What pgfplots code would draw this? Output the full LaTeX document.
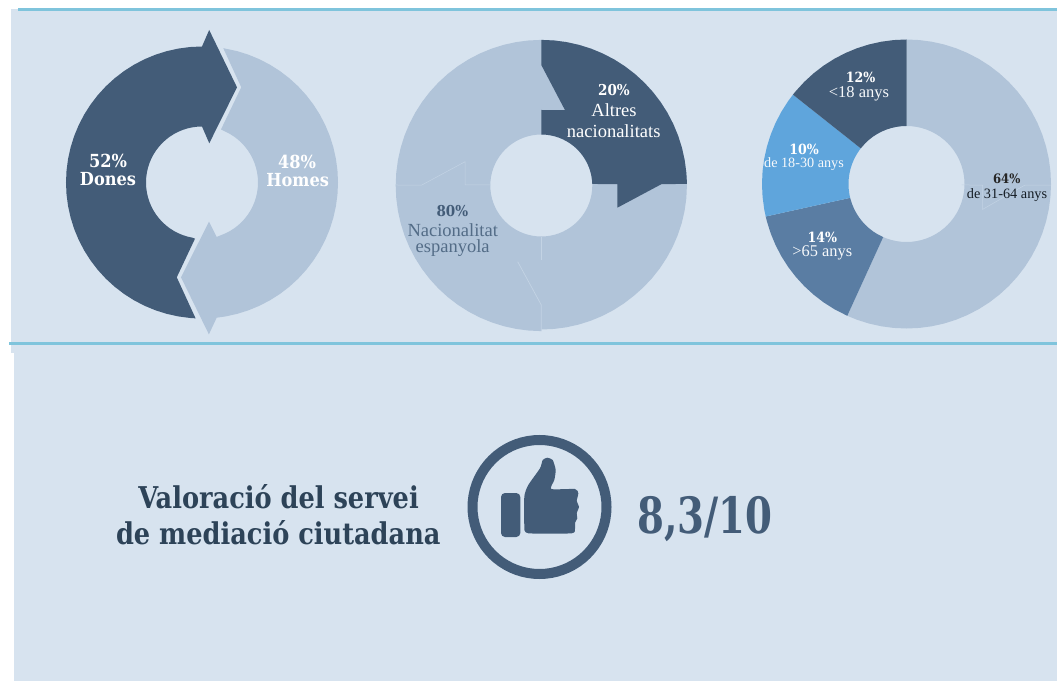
\documentclass[border=0pt]{standalone}
\usepackage{fontspec}
\setmainfont{Liberation Serif}
\newfontfamily\slab{DejaVu Serif Condensed}
\usepackage{pgfplots}
\usepgfplotslibrary{polar}
\pgfplotsset{compat=1.18}
\definecolor{bgpanel}{HTML}{D7E3EF}
\definecolor{rule}{HTML}{7FC4DC}
\definecolor{navy}{HTML}{435C78}
\definecolor{pale}{HTML}{B1C4D9}
\definecolor{mid}{HTML}{5A7DA3}
\definecolor{sky}{HTML}{5FA5DC}
\definecolor{seam}{HTML}{C3D3E4}
\definecolor{head}{HTML}{2D4358}
\pgfplotsset{
  pix/.style={at={(0pt,0pt)},anchor=south west,scale only axis,width=1057pt,height=681pt,
    xmin=0,xmax=1057,ymin=0,ymax=681,y dir=reverse,hide axis,clip=false},
  donut/.style={anchor=center,scale only axis,width=340pt,height=340pt,
    xmin=0,xmax=360,ymin=0,ymax=170,hide axis,clip=false},
}
\newcommand{\lab}[4]{\node[text=#3,align=center,inner sep=0pt] at (axis cs:#1,#2) {#4};}
\newcommand{\bl}[1]{\slab\bfseries\fontsize{#1}{#1}\selectfont}
\newcommand{\lt}[1]{\fontsize{#1}{#1}\selectfont}
\begin{document}
\begin{tikzpicture}
\path[use as bounding box] (0pt,0pt) rectangle (1057pt,681pt);
% panels and rules
\begin{axis}[pix]
\addplot[fill=bgpanel,draw=none] coordinates {(11,9) (1057,9) (1057,353) (11,353)};
\addplot[fill=bgpanel,draw=none] coordinates {(14,352) (1057,352) (1057,681) (14,681)};
\addplot[rule,line width=3pt] coordinates {(18,9.5) (1057,9.5)};
\addplot[rule,line width=3pt] coordinates {(9,343.3) (1057,343.3)};
\end{axis}

% donut 1: gender
\begin{polaraxis}[donut,at={(202pt,498.5pt)}]
\addplot[fill=navy,draw=none] coordinates {
(90,136)(95,136)(100,136)(105,136)(110,136)(115,136)(120,136)(125,136)(130,136)(135,136)(140,136)(145,136)
(150,136)(155,136)(160,136)(165,136)(170,136)(175,136)(180,136)(185,136)(190,136)(195,136)(200,136)(205,136)
(210,136)(215,136)(220,136)(225,136)(230,136)(235,136)(240,136)(245,136)(250,136)(255,136)(260,136)(265,136)(267.3,136)
(255.1,98.1)(262.9,56.6)
(260,56)(255,56)(250,56)(245,56)(240,56)(235,56)(230,56)(225,56)(220,56)(215,56)(210,56)(205,56)(200,56)(195,56)
(190,56)(185,56)(180,56)(175,56)(170,56)(165,56)(160,56)(155,56)(150,56)(145,56)(140,56)(135,56)(130,56)(125,56)
(120,56)(115,56)(110,56)(105,56)(100,56)(95,56)(90,56)
(79.5,39.9)(69.8,101.4)(87.3,152.7)};
\addplot[fill=pale,draw=none] coordinates {
(81,136)(75,136)(70,136)(65,136)(60,136)(55,136)(50,136)(45,136)(40,136)(35,136)(30,136)(25,136)(20,136)(15,136)(10,136)(5,136)
(0,136)(355,136)(350,136)(345,136)(340,136)(335,136)(330,136)(325,136)(320,136)(315,136)(310,136)(305,136)(300,136)(295,136)(290,136)(285,136)(280,136)(276.2,136)
(272.6,152)(257.5,97.1)(280.1,39.8)(285.1,56.4)
(290,56)(295,56)(300,56)(305,56)(310,56)(315,56)(320,56)(325,56)(330,56)(335,56)(340,56)(345,56)(350,56)(355,56)
(0,56)(5,56)(10,56)(15,56)(20,56)(25,56)(30,56)(35,56)(40,56)(45,56)(50,56)(55,56)(60,56)(65,56)(70.3,56.4)
(67.6,103)};
\end{polaraxis}

% donut 2: nationality
\begin{polaraxis}[donut,at={(541.3pt,495.5pt)}]
\addplot[fill=pale,draw=none] coordinates {
(45,145.6)(40,145.6)(35,145.6)(30,145.6)(25,145.6)(20,145.6)(15,145.6)(10,145.6)(5,145.6)(0,145.6)
(355,145.6)(350,145.5)(345,145.4)(340,145.2)(335,145)(330,144.8)(325,144.6)(320,144.4)(315,144.2)(310,144)(305,144)(300,144)(295,144)(290,144)(285,144)(280,144)(275,144)(270,144)
(270,145.6)(265,145.6)(260,145.6)(255,145.6)(250,145.6)(245,145.6)(240,145.6)(235,145.6)(230,145.6)(225,145.6)(220,145.6)(215,145.6)(210,145.6)(205,145.6)(200,145.6)(195,145.6)(190,145.6)(185,145.6)
(180,145.6)(175,145.6)(170,145.6)(165,145.6)(160,145.6)(155,145.6)(150,145.6)(145,145.6)(140,145.6)(135,145.6)(130,145.6)(125,145.6)(120,145.6)(115,145.6)(110,145.6)(105,145.6)(100,145.6)(95,145.6)(90,145.6)
(85,145.6)(80,145.6)(75,145.6)(70,145.6)(65,145.6)(60,145.6)(55,145.6)(50,145.6)(45,145.6)
(45,51)(50,51)(55,51)(60,51)(65,51)(70,51)(75,51)(80,51)(85,51)(90,51)(95,51)(100,51)(105,51)(110,51)(115,51)(120,51)(125,51)(130,51)(135,51)
(140,51)(145,51)(150,51)(155,51)(160,51)(165,51)(170,51)(175,51)(180,51)(185,51)(190,51)(195,51)(200,51)(205,51)(210,51)(215,51)(220,51)(225,51)
(230,51)(235,51)(240,51)(245,51)(250,51)(255,51)(260,51)(265,51)(270,51)(275,51)(280,51)(285,51)(290,51)(295,51)(300,51)(305,51)(310,51)(315,51)
(320,51)(325,51)(330,51)(335,51)(340,51)(345,51)(350,51)(355,51)(0,51)(5,51)(10,51)(15,51)(20,51)(25,51)(30,51)(35,51)(40,51)(45,51)};
\addplot[fill=navy,draw=none] coordinates {
(90,145.6)(85,145.6)(80,145.6)(75,145.6)(70,145.6)(65,145.6)(60,145.6)(55,145.6)(50,145.6)(45,145.6)(40,145.6)(35,145.6)(30,145.6)(25,145.6)(20,145.6)(15,145.6)(10,145.6)(5,145.6)(0.6,145.7)
(0.7,120.4)(343.7,79.2)(1.1,76)(1.7,51)
(5,51)(10,51)(15,51)(20,51)(25,51)(30,51)(35,51)(40,51)(45,51)(50,51)(55,51)(60,51)(65,51)(70,51)(75,51)(80,51)(85,51)(90,51)
(90,75.5)(72.6,79.1)(90,120.5)};
\addplot[seam,line width=0.5pt] coordinates {(179.8,145.6)(179.8,119.6)(162.7,79.9)(179.6,76.3)(179.4,51.3)};
\addplot[seam,line width=0.5pt] coordinates {(270,51.2)(270,74.5)};
\addplot[seam,line width=0.7pt] coordinates {(252.8,79.8)(270,119.5)(270,145.5)};
\end{polaraxis}

% donut 3: age
\begin{polaraxis}[donut,at={(906.5pt,497pt)}]
\addplot[fill=pale,draw=none] coordinates {
(90,144.5)(85,144.5)(80,144.5)(75,144.5)(70,144.5)(65,144.5)(60,144.5)(55,144.5)(50,144.5)(45,144.5)(40,144.5)(35,144.5)(30,144.5)(25,144.5)(20,144.5)(15,144.5)(10,144.5)(5,144.5)
(0,144.5)(355,144.5)(350,144.5)(345,144.5)(340,144.5)(335,144.5)(330,144.5)(325,144.5)(320,144.5)(315,144.5)(310,144.5)(305,144.5)(300,144.5)(295,144.5)(290,144.5)(285,144.5)(280,144.5)(275,144.5)
(270,144.5)(265,144.5)(260,144.5)(255,144.5)(250,144.5)(245.8,144.5)
(246.3,58)(250,58)(255,58)(260,58)(265,58)(270,58)(275,58)(280,58)(285,58)(290,58)(295,58)(300,58)(305,58)(310,58)(315,58)(320,58)(325,58)(330,58)(335,58)(340,58)(345,58)(350,58)(355,58)
(0,58)(5,58)(10,58)(15,58)(20,58)(25,58)(30,58)(35,58)(40,58)(45,58)(50,58)(55,58)(60,58)(65,58)(70,58)(75,58)(80,58)(85,58)(90,58)};
\addplot[fill=mid,draw=none] coordinates {
(245.8,144.5)(240,144.5)(235,144.5)(230,144.5)(225,144.5)(220,144.5)(215,144.5)(210,144.5)(205,144.5)(200,144.5)(195,144.5)(193,144.5)
(193.8,58)(195,58)(200,58)(205,58)(210,58)(215,58)(220,58)(225,58)(230,58)(235,58)(240,58)(246.3,58)};
\addplot[fill=sky,draw=none] coordinates {
(193,144.5)(190,144.5)(185,144.5)(180,144.5)(175,144.5)(170,144.5)(165,144.5)(160,144.5)(155,144.5)(150,144.5)(145,144.5)(141.8,144.5)
(142.1,58)(145,58)(150,58)(155,58)(160,58)(165,58)(170,58)(175,58)(180,58)(185,58)(190,58)(193.8,58)};
\addplot[fill=navy,draw=none] coordinates {
(141.8,144.5)(140,144.5)(135,144.5)(130,144.5)(125,144.5)(120,144.5)(115,144.5)(110,144.5)(105,144.5)(100,144.5)(95,144.5)(90,144.5)
(90,58)(95,58)(100,58)(105,58)(110,58)(115,58)(120,58)(125,58)(130,58)(135,58)(142.1,58)};
\addplot[seam,line width=0.5pt] coordinates {(359,55.2)(359.2,76.2)(341.6,80.3)(359.5,118.5)(359.6,144.5)};
\end{polaraxis}

% ring of the thumb
\begin{polaraxis}[donut,at={(539.5pt,174pt)}]
\addplot[navy,line width=10pt] coordinates {
(0,67)(5,67)(10,67)(15,67)(20,67)(25,67)(30,67)(35,67)(40,67)(45,67)(50,67)(55,67)(60,67)(65,67)(70,67)(75,67)(80,67)(85,67)
(90,67)(95,67)(100,67)(105,67)(110,67)(115,67)(120,67)(125,67)(130,67)(135,67)(140,67)(145,67)(150,67)(155,67)(160,67)(165,67)(170,67)(175,67)
(180,67)(185,67)(190,67)(195,67)(200,67)(205,67)(210,67)(215,67)(220,67)(225,67)(230,67)(235,67)(240,67)(245,67)(250,67)(255,67)(260,67)(265,67)
(270,67)(275,67)(280,67)(285,67)(290,67)(295,67)(300,67)(305,67)(310,67)(315,67)(320,67)(325,67)(330,67)(335,67)(340,67)(345,67)(350,67)(355,67)} -- cycle;
\end{polaraxis}

% thumb and all text
\begin{axis}[pix]
\addplot[fill=navy,draw=none,rounded corners=4pt] coordinates {(501,493)(520.3,493)(520.3,537)(501,537)} -- cycle;
\addplot[fill=navy,draw=none,smooth,tension=0.35] coordinates {
(524.3,528.3)(524.3,496.7)(528.3,485)(540,468.3)(542.7,460)(547.3,457.7)(552.7,460)(555.7,470)(554.3,480)(551.3,489)
(575,489)(578.3,493.3)(576.7,501)(579,506.7)(576.7,513.3)(577.3,518.3)(575,522.7)(575,528.3)(571.7,533.3)(528.3,533.3)(524.3,528.3)};

\lab{108}{161}{white}{\bl{18}52\%}
\lab{108}{179}{white}{\bl{18}Dones}
\lab{297}{161.5}{white}{\bl{18}48\%}
\lab{297.6}{180.5}{white}{\bl{18}Homes}

\lab{614}{90}{white}{\bl{15}20\%}
\lab{614}{110}{white}{\lt{18.5}Altres}
\lab{613.7}{131}{white}{\lt{18.5}nacionalitats}
\lab{452.3}{211}{navy}{\bl{15}80\%}
\lab{452.7}{229.7}{navy!85!pale}{\lt{18.5}Nacionalitat}
\lab{452.7}{247.7}{navy!85!pale}{\lt{18.5}espanyola}

\lab{860.7}{77.7}{white}{\bl{14}12\%}
\lab{859}{94}{white!90!pale}{\lt{16.5}<18 anys}
\lab{804}{149.3}{white}{\bl{14}10\%}
\lab{804}{164.3}{white!90!pale}{\lt{14.2}de 18-30 anys}
\lab{822.3}{237.7}{white}{\bl{14}14\%}
\lab{822.3}{252.7}{white!90!pale}{\lt{16.4}>65 anys}
\lab{1006.7}{178.7}{black!85}{\bl{13}64\%}
\lab{1007}{194.7}{black!70!navy}{\lt{14.3}de 31-64 anys}

\lab{278.6}{496.7}{head}{\scalebox{.95}[1]{\bl{30}Valoració del servei}}
\lab{278.3}{533}{head}{\scalebox{.95}[1]{\bl{30}de mediació ciutadana}}
\lab{705}{519}{navy}{\scalebox{.86}[1]{\bl{50}8,3/10}}
\end{axis}
\end{tikzpicture}
\end{document}
